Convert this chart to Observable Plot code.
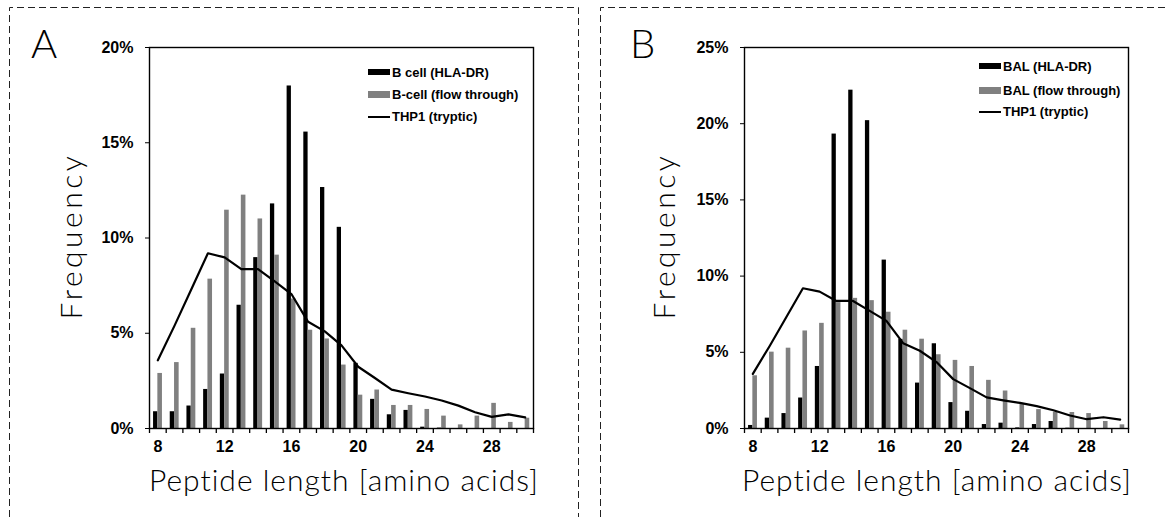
<!DOCTYPE html>
<html><head><meta charset="utf-8">
<script src="https://cdn.jsdelivr.net/npm/d3@7"></script>
<script src="https://cdn.jsdelivr.net/npm/@observablehq/plot@0.6"></script>
<style>
body{margin:0;background:#fff;}
#wrap{position:relative;width:1168px;height:517px;overflow:hidden;background:#fff;}
.plot{position:absolute;top:0;}
.plot text{font-size:16px !important;font-weight:bold;font-family:"Liberation Sans",Arial,sans-serif;}
.thin{position:absolute;font-family:Lato,"Open Sans",sans-serif;font-weight:300;color:#000;white-space:nowrap;line-height:1;}
.leg{position:absolute;display:flex;align-items:center;height:16px;font-family:"Liberation Sans",Arial,sans-serif;font-weight:bold;font-size:13px;color:#000;white-space:nowrap;}
.sw{display:inline-block;width:22px;margin-right:2px;}
</style></head><body><div id="wrap"></div>
<script>
// ---- data ----
const lengths = [8,9,10,11,12,13,14,15,16,17,18,19,20,21,22,23,24,25,26,27,28,29,30];
const xTickLabels = [8,12,16,20,24,28];
const bcellHLA  = [0.88,0.88,1.18,2.05,2.86,6.47,8.97,11.79,17.98,15.56,12.65,10.56,3.42,1.53,0.72,0.95,0.07,0.02,0,0,0,0,0];
const bcellFlow = [2.89,3.46,5.26,7.84,11.46,12.25,11.0,9.1,6.8,5.16,4.7,3.33,1.75,2.02,1.21,1.21,1.0,0.65,0.19,0.65,1.32,0.32,0.54];
const balHLA    = [0.2,0.68,0.98,2.0,4.07,19.32,22.2,20.2,11.05,5.85,2.98,5.56,1.70,1.13,0.26,0.35,0.04,0.26,0.46,0.02,0,0,0];
const balFlow   = [3.46,5.01,5.27,6.4,6.9,8.26,8.54,8.39,7.63,6.45,5.86,4.84,4.47,4.07,3.16,2.46,1.59,1.24,1.07,1.05,0.98,0.46,0.24];
const thp1      = [3.58,5.4,7.3,9.2,8.98,8.37,8.37,7.72,7.06,5.6,5.1,4.36,3.24,2.65,2.04,1.85,1.68,1.47,1.2,0.85,0.61,0.74,0.58];
const yTicksA = [0,5,10,15,20];
const yTicksB = [0,5,10,15,20,25];
const legendA = ["B cell (HLA-DR)","B-cell (flow through)","THP1 (tryptic)"];
const legendB = ["BAL (HLA-DR)","BAL (flow through)","THP1 (tryptic)"];
const xTitle = "Peptide length [amino acids]";
const yTitle = "Frequency";

const wrap = document.getElementById("wrap");

function makePanel(cfg){
  const rows = lengths.map((len,i)=>({len, hla: cfg.hla[i], flow: cfg.flow[i], thp: thp1[i]}));
  const edges = [lengths[0]-0.5, ...lengths.map(l=>l+0.5)];
  const chart = Plot.plot({
    width: cfg.width, height: 517,
    marginLeft: cfg.marginLeft, marginRight: cfg.marginRight, marginTop: 47, marginBottom: 89,
    x: {type:"linear", domain:[edges[0], edges[edges.length-1]], ticks: xTickLabels, tickSize: 0, tickPadding: 12, tickFormat: d=>String(d), label: null},
    y: {domain:[0, cfg.yTicks[cfg.yTicks.length-1]], ticks: cfg.yTicks, tickSize: 4, tickPadding: 12, tickFormat: d=>d+"%", label: null},
    style: {fontFamily:"'Liberation Sans', Arial, sans-serif", fontSize:"16px", fontWeight:"bold", color:"#000", background:"transparent"},
    marks: [
      Plot.rect(rows, {x1: d=>d.len-0.5, x2: d=>d.len+0.5, y1: 0, y2: "hla", fill:"#000", insetLeft: 4.05, insetRight: 8.35}),
      Plot.rect(rows, {x1: d=>d.len-0.5, x2: d=>d.len+0.5, y1: 0, y2: "flow", fill:"#808080", insetLeft: 8.35, insetRight: 3.75}),
      Plot.line(rows, {x:"len", y:"thp", stroke:"#000", strokeWidth:2.2}),
      Plot.ruleX(edges, {y1: 0, y2: 0, insetBottom: -5, stroke:"#000", strokeWidth:1.3}),
      Plot.frame({stroke:"#000", strokeWidth:1.4})
    ]
  });
  chart.classList.add("plot");
  chart.style.left = cfg.left + "px";
  wrap.appendChild(chart);

  const letter = document.createElement("div");
  letter.className = "thin"; letter.textContent = cfg.letter;
  letter.style.cssText += `left:${cfg.letterX}px;top:23px;font-size:40px;`;
  wrap.appendChild(letter);

  const yt = document.createElement("div");
  yt.className = "thin"; yt.textContent = yTitle;
  yt.style.cssText += `left:${cfg.yTitleX}px;top:236px;font-size:30px;letter-spacing:3.5px;transform:translate(-50%,-50%) rotate(-90deg);`;
  wrap.appendChild(yt);

  const xt = document.createElement("div");
  xt.className = "thin"; xt.textContent = xTitle;
  xt.style.cssText += `left:${cfg.xTitleX}px;top:464px;font-size:30px;letter-spacing:1px;transform:translateX(-50%);`;
  wrap.appendChild(xt);

  cfg.legend.forEach((name,k)=>{
    const row = document.createElement("div");
    row.className = "leg";
    row.style.left = cfg.legX + "px";
    row.style.top = (cfg.legY[k] - 8) + "px";
    const sw = document.createElement("span");
    sw.className = "sw";
    if (k===0) {sw.style.height="6px"; sw.style.background="#000";}
    else if (k===1) {sw.style.height="7px"; sw.style.background="#808080";}
    else {sw.style.height="2px"; sw.style.background="#000";}
    row.appendChild(sw);
    const t = document.createElement("span"); t.textContent = name; row.appendChild(t);
    wrap.appendChild(row);
  });
}

makePanel({left:0, width:580, marginLeft:149, marginRight:47, yTicks:yTicksA, hla:bcellHLA, flow:bcellFlow,
  letter:"A", letterX:31, yTitleX:70, xTitleX:344, legend:legendA, legX:368, legY:[72,94.3,116.5]});
makePanel({left:590, width:578, marginLeft:154, marginRight:40, yTicks:yTicksB, hla:balHLA, flow:balFlow,
  letter:"B", letterX:630, yTitleX:663, xTitleX:937, legend:legendB, legX:979, legY:[66.3,90,111.7]});

// dashed panel borders
const ns = "http://www.w3.org/2000/svg";
const deco = document.createElementNS(ns,"svg");
deco.setAttribute("width",1168); deco.setAttribute("height",517);
deco.style.cssText = "position:absolute;left:0;top:0;pointer-events:none;";
["M9.5,517V7.5H578.5V517","M600.5,517V7.5H1168"].forEach(d=>{
  const p = document.createElementNS(ns,"path");
  p.setAttribute("d",d); p.setAttribute("fill","none"); p.setAttribute("stroke","#222");
  p.setAttribute("stroke-width","1"); p.setAttribute("stroke-dasharray","7,4");
  deco.appendChild(p);
});
wrap.appendChild(deco);
</script></body></html>
